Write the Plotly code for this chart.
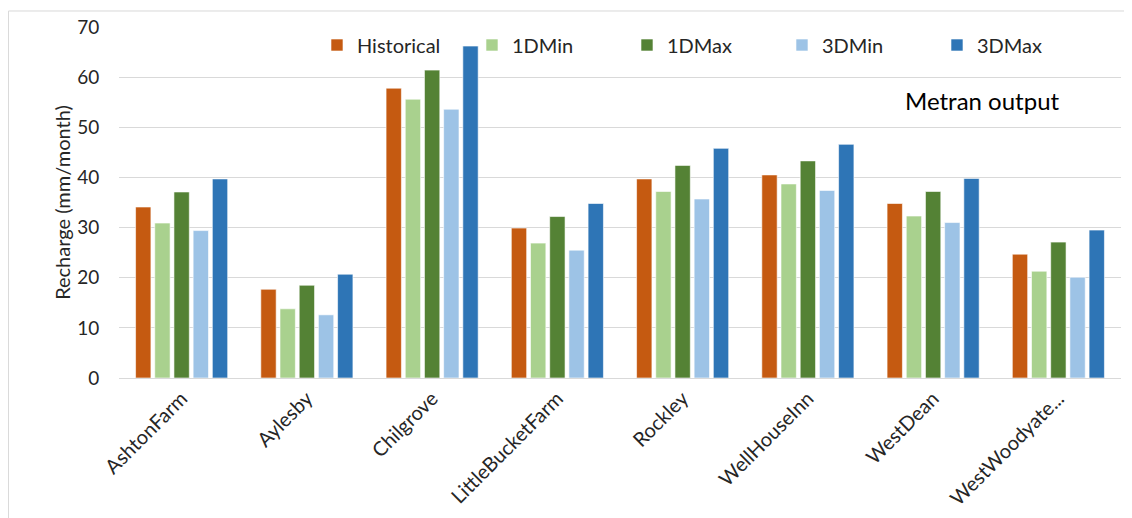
import plotly.graph_objects as go

categories = ["AshtonFarm", "Aylesby", "Chilgrove", "LittleBucketFarm",
              "Rockley", "WellHouseInn", "WestDean", "WestWoodyate..."]
historical = [34.1, 17.7, 57.8, 29.9, 39.7, 40.5, 34.8, 24.7]
d1_min = [30.9, 13.8, 55.6, 26.9, 37.2, 38.7, 32.3, 21.3]
d1_max = [37.1, 18.5, 61.4, 32.2, 42.4, 43.3, 37.2, 27.1]
d3_min = [29.4, 12.6, 53.6, 25.5, 35.7, 37.4, 31.0, 20.1]
d3_max = [39.7, 20.7, 66.2, 34.8, 45.8, 46.6, 39.8, 29.5]
y_ticks = [0, 10, 20, 30, 40, 50, 60, 70]

series = [
    ("Historical", historical, "#C55A11"),
    ("1DMin", d1_min, "#A9D18E"),
    ("1DMax", d1_max, "#548235"),
    ("3DMin", d3_min, "#9DC3E6"),
    ("3DMax", d3_max, "#2E75B6"),
]

FONT = "Lato"
TXT = "#262626"

fig = go.Figure()
for name, vals, color in series:
    fig.add_trace(go.Bar(
        x=categories, y=vals, name=name,
        marker=dict(color=color, line=dict(color="white", width=0.6)),
    ))

fig.update_layout(
    width=1124, height=510,
    margin=dict(l=111, r=11, t=19, b=140, autoexpand=False),
    paper_bgcolor="white", plot_bgcolor="white",
    barmode="group", bargap=0.234, bargroupgap=0.2,
    font=dict(family=FONT, size=18, color=TXT),
    showlegend=True,
    legend=dict(
        orientation="h", x=0.1976, y=0.9487, xanchor="left", yanchor="middle",
        font=dict(family=FONT, size=20, color=TXT),
        entrywidth=110, entrywidthmode="pixels",
        bgcolor="rgba(0,0,0,0)", traceorder="normal",
    ),
    xaxis=dict(
        automargin=False,
        tickangle=-45, tickfont=dict(family=FONT, size=20, color=TXT),
        showgrid=False, showline=True, linecolor="#d9d9d9", linewidth=1,
        ticks="",
    ),
    yaxis=dict(
        automargin=False,
        range=[0, 70], tickvals=y_ticks, showgrid=True, gridcolor="#d9d9d9",
        gridwidth=1, zeroline=False, showline=False,
        tickfont=dict(family=FONT, size=19, color=TXT),
        ticks="outside", ticklen=15, tickcolor="rgba(0,0,0,0)",
        title=dict(text="Recharge (mm/month)", font=dict(family=FONT, size=20, color=TXT),
                   standoff=1),
    ),
    annotations=[dict(
        text="Metran output", xref="paper", yref="paper",
        x=0.941, y=0.792, xanchor="right", yanchor="middle", showarrow=False,
        font=dict(family=FONT, size=24, color="#000000"),
    )],
    shapes=[dict(
        type="rect", xref="paper", yref="paper",
        x0=-0.1103, x1=1.03, y0=-0.5, y1=1.0456,
        line=dict(color="#d9d9d9", width=1), fillcolor="rgba(0,0,0,0)", layer="below",
    )],
)

fig.write_html("out.html")
